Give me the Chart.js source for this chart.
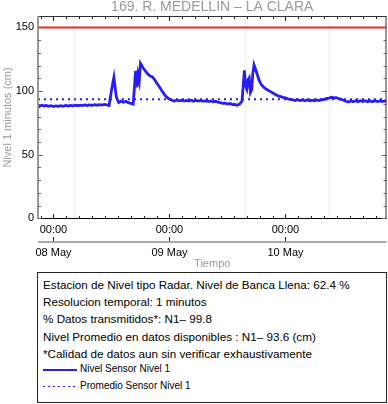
<!DOCTYPE html>
<html>
<head>
<meta charset="utf-8">
<script src="https://cdn.jsdelivr.net/npm/chart.js@4.4.1/dist/chart.umd.min.js"></script>
<style>
  body { margin: 0; background: #fff; font-family: "Liberation Sans", Arial, sans-serif; }
  #wrap { position: relative; width: 388px; height: 404px; }
  #chart { position: absolute; left: 0; top: 0; }
  #info { position: absolute; left: 37px; top: 272px; width: 348px; height: 129px; border: 1px solid #222; }
  .ln { position: absolute; left: 5px; font-size: 11.7px; color: #000; white-space: nowrap; line-height: 14px; }
  .lg { position: absolute; left: 42px; font-size: 10px; color: #000; white-space: nowrap; line-height: 12px; }
  .sw { position: absolute; left: 5px; width: 34px; height: 1.5px; }
</style>
</head>
<body>
<div id="wrap">
  <canvas id="chart" width="388" height="271"></canvas>
  <div id="info"></div>
</div>
<script>
/// -------------- DATA --------------- ///

const chartTitle = "169. R. MEDELLIN \u2013 LA CLARA";

// hours after 08 May 00:00
const hours = [
  -3.2, -3, -2.5, -2, -1.5, -1, -0.5, 0, 0.5, 1,
  1.5, 2, 2.5, 3, 3.5, 4, 4.5, 5, 5.5, 6,
  6.5, 7, 7.5, 8, 8.5, 9, 9.5, 10, 10.5, 11,
  11.5, 12, 12.5, 13, 13.5, 14, 14.5, 15, 15.5, 16,
  16.5, 17, 17.25, 17.5, 17.75, 18, 18.5, 19, 19.5, 20,
  20.5, 21, 21.5, 22, 22.5, 23, 23.5, 24, 24.5, 25,
  25.5, 26, 26.5, 27, 27.5, 28, 28.5, 29, 29.5, 30,
  30.5, 31, 31.5, 32, 32.5, 33, 33.5, 34, 34.5, 35,
  35.5, 36, 36.5, 37, 37.5, 38, 38.5, 39, 39.5, 39.75,
  40, 40.25, 40.5, 40.75, 41, 41.25, 41.5, 42, 42.5, 43,
  43.5, 44, 44.5, 45, 45.5, 46, 46.5, 47, 47.5, 48,
  48.5, 49, 49.5, 50, 50.5, 51, 51.5, 52, 52.5, 53,
  53.5, 54, 54.5, 55, 55.5, 56, 56.5, 57, 57.5, 58,
  58.5, 59, 59.5, 60, 60.5, 61, 61.5, 62, 62.5, 63,
  63.5, 64, 64.5, 65, 65.5, 66, 66.5, 67, 67.5, 68,
  68.5, 68.9
];

const nivelSensor1 = [
  88.6, 88.2, 88.9, 88.3, 88.7, 88.0, 88.5, 87.9, 88.4, 88.0,
  88.6, 88.1, 88.7, 88.3, 88.8, 88.4, 88.9, 88.5, 89.0, 88.6,
  89.1, 88.7, 89.2, 88.8, 89.3, 88.9, 89.4, 89.0, 89.5, 89.1,
  88.7, 100.5, 110.8, 95.5, 91.0, 92.1, 91.2, 91.9, 90.9, 90.4,
  89.8, 116.0, 103.0, 113.0, 108.0, 121.8, 118.5, 115.8, 113.5, 111.8,
  111.2, 108.5, 105.5, 102.8, 99.8, 97.0, 95.0, 93.6, 92.8, 92.2,
  92.9, 92.3, 92.8, 92.1, 92.7, 92.2, 92.8, 92.0, 92.6, 92.1,
  92.7, 92.0, 92.5, 91.8, 92.3, 91.6, 92.0, 91.3, 91.0, 90.4,
  90.6, 89.9, 90.2, 89.4, 89.6, 88.9, 89.8, 92.0, 116.3, 104.0,
  101.5, 109.0, 110.5, 99.0, 101.0, 114.0, 120.5, 115.0, 109.0, 105.0,
  103.0, 101.6, 100.4, 99.4, 98.3, 97.1, 96.2, 95.6, 95.0, 94.6,
  93.9, 93.5, 93.2, 92.6, 93.2, 92.5, 93.1, 92.4, 93.0, 92.3,
  92.9, 92.4, 93.0, 92.6, 93.3, 93.4, 94.2, 94.5, 95.1, 94.6,
  94.9, 94.2, 93.5, 92.8, 92.0, 91.4, 92.2, 91.6, 92.4, 91.7,
  92.5, 91.8, 92.4, 91.6, 92.3, 91.7, 92.4, 91.8, 92.3, 91.7,
  92.3, 91.9
];

const promedioNivel1 = 93.6;
const bancaLlena = 150;
const gapHours = [4.3, 39.8, 57.05];

const xRange = [-3.2, 68.9];
const yRange = [-0.5, 159];
const yTicks = [0, 50, 100, 150];
const dayTicks = [0, 24, 48];
const hourLabels = ["00:00", "00:00", "00:00"];
const dayLabels = ["08 May", "09 May", "10 May"];

const infoLines = [
  "Estacion de Nivel tipo Radar. Nivel de Banca Llena: 62.4 %",
  "Resolucion temporal: 1 minutos",
  "% Datos transmitidos*: N1\u2013 99.8",
  "Nivel Promedio en datos disponibles : N1\u2013 93.6 (cm)",
  "*Calidad de datos aun sin verificar exhaustivamente"
];
const legendLabels = ["Nivel Sensor Nivel 1", "Promedio Sensor Nivel 1"];

/// -------------- INFO BOX --------------- ///

const blue = "rgb(40,30,245)";

const info = document.getElementById("info");
infoLines.forEach((txt, i) => {
    const d = document.createElement("div");
    d.className = "ln";
    d.style.top = (5 + i * 17.2) + "px";
    d.textContent = txt;
    info.appendChild(d);
});
legendLabels.forEach((txt, i) => {
    const y = 96 + i * 16.5;
    const sw = document.createElement("div");
    sw.className = "sw";
    sw.style.top = y + "px";
    sw.style.background = i === 0
        ? blue
        : "repeating-linear-gradient(to right, " + blue + " 0 1.5px, transparent 1.5px 5px)";
    info.appendChild(sw);
    const d = document.createElement("div");
    d.className = "lg";
    d.style.top = (y - 6) + "px";
    d.textContent = txt;
    info.appendChild(d);
});

/// -------------- CHART --------------- ///

const frame = {
    id: "frame",
    afterDraw(chart) {
        const { ctx, chartArea: a, scales: { x, y } } = chart;
        ctx.save();

        // title
        ctx.fillStyle = "#9a9a9a";
        ctx.font = "14px 'Liberation Sans', Arial, sans-serif";
        ctx.textAlign = "center";
        ctx.textBaseline = "middle";
        ctx.fillText(chartTitle, (a.left + a.right) / 2, 7);

        // axis titles
        ctx.font = "11px 'Liberation Sans', Arial, sans-serif";
        ctx.fillText("Tiempo", (a.left + a.right) / 2, 264);
        ctx.save();
        ctx.translate(8, (a.top + a.bottom) / 2);
        ctx.rotate(-Math.PI / 2);
        ctx.fillText("Nivel 1 minutos (cm)", 0, 0);
        ctx.restore();

        // borders
        ctx.lineWidth = 1;
        ctx.strokeStyle = "#333";
        ctx.beginPath();
        ctx.moveTo(a.left, a.top + 0.5); ctx.lineTo(a.right, a.top + 0.5);
        ctx.moveTo(a.right - 0.5, a.top); ctx.lineTo(a.right - 0.5, a.bottom);
        ctx.stroke();
        ctx.strokeStyle = "#000";
        ctx.beginPath();
        ctx.moveTo(a.left, a.bottom - 0.5); ctx.lineTo(a.right, a.bottom - 0.5);
        ctx.stroke();
        ctx.strokeStyle = "#999";
        ctx.lineWidth = 2;
        ctx.beginPath();
        ctx.moveTo(a.left, a.top); ctx.lineTo(a.left, a.bottom);
        ctx.stroke();

        // y ticks, both sides
        ctx.lineWidth = 1;
        ctx.strokeStyle = "#666";
        ctx.beginPath();
        for (let v = 0; v <= 150; v += 10) {
            const py = Math.round(y.getPixelForValue(v)) + 0.5;
            const len = v % 50 === 0 ? 5 : 3;
            ctx.moveTo(a.left, py); ctx.lineTo(a.left + len, py);
            ctx.moveTo(a.right, py); ctx.lineTo(a.right - len, py);
        }
        ctx.stroke();

        // x ticks, bottom and top
        ctx.strokeStyle = "#222";
        ctx.beginPath();
        for (let k = -1; k <= 26; k++) {
            const h = k * 8 / 3;
            if (h < xRange[0] || h > xRange[1]) continue;
            const px = Math.round(x.getPixelForValue(h)) + 0.5;
            const len = k % 9 === 0 ? 5 : 3;
            ctx.moveTo(px, a.bottom); ctx.lineTo(px, a.bottom - len);
            ctx.moveTo(px, a.top); ctx.lineTo(px, a.top + len);
        }
        ctx.stroke();

        // date axis
        ctx.strokeStyle = "#aaa";
        ctx.lineWidth = 2;
        ctx.beginPath();
        ctx.moveTo(a.left, 242); ctx.lineTo(a.right, 242);
        ctx.stroke();
        ctx.strokeStyle = "#222";
        ctx.lineWidth = 1;
        ctx.fillStyle = "#000";
        ctx.font = "11px 'Liberation Sans', Arial, sans-serif";
        dayTicks.forEach((h, i) => {
            const px = Math.round(x.getPixelForValue(h)) + 0.5;
            ctx.beginPath();
            ctx.moveTo(px, 237); ctx.lineTo(px, 241);
            ctx.stroke();
            ctx.fillText(dayLabels[i], px, 253);
        });

        ctx.restore();
    }
};

function vline(h) {
    return {
        data: [{ x: h, y: yRange[0] }, { x: h, y: yRange[1] }],
        borderColor: "#ececec",
        borderWidth: 1,
        pointRadius: 0
    };
}

new Chart(document.getElementById("chart"), {
    type: "line",
    data: {
        datasets: [
            {
                label: legendLabels[0],
                data: hours.map((h, i) => ({ x: h, y: nivelSensor1[i] })),
                borderColor: blue,
                borderWidth: 2.8,
                pointRadius: 0,
                tension: 0
            },
            {
                label: legendLabels[1],
                data: [{ x: xRange[0], y: promedioNivel1 }, { x: xRange[1], y: promedioNivel1 }],
                borderColor: blue,
                borderWidth: 2,
                borderDash: [2, 4],
                pointRadius: 0
            },
            {
                label: "Banca llena",
                data: [{ x: xRange[0], y: bancaLlena }, { x: xRange[1], y: bancaLlena }],
                borderColor: "rgb(240,40,20)",
                borderWidth: 2,
                pointRadius: 0
            },
            ...gapHours.map(vline)
        ]
    },
    options: {
        responsive: false,
        animation: false,
        devicePixelRatio: 1,
        layout: { padding: { top: 16, right: 1.5, left: 0, bottom: 0 } },
        plugins: {
            legend: { display: false },
            tooltip: { enabled: false }
        },
        scales: {
            x: {
                type: "linear",
                min: xRange[0],
                max: xRange[1],
                afterBuildTicks: s => { s.ticks = dayTicks.map(v => ({ value: v })); },
                afterFit: s => { s.height = 52; },
                grid: { display: false, drawTicks: false },
                border: { display: false },
                ticks: {
                    autoSkip: false,
                    maxRotation: 0,
                    padding: 4,
                    color: "#000",
                    font: { size: 11, family: "'Liberation Sans', Arial, sans-serif" },
                    callback: (v) => hourLabels[dayTicks.indexOf(v)] || ""
                }
            },
            y: {
                min: yRange[0],
                max: yRange[1],
                afterBuildTicks: s => { s.ticks = yTicks.map(v => ({ value: v })); },
                afterFit: s => { s.width = 38; },
                grid: { display: false, drawTicks: false },
                border: { display: false },
                ticks: {
                    padding: 4,
                    color: "#000",
                    font: { size: 11, family: "'Liberation Sans', Arial, sans-serif" }
                }
            }
        }
    },
    plugins: [frame]
});
</script>
</body>
</html>
